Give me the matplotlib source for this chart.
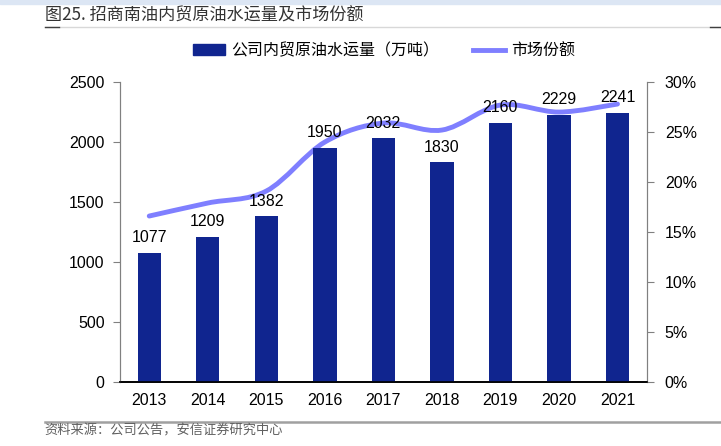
import matplotlib
matplotlib.use('Agg')
import matplotlib.pyplot as plt
from matplotlib.path import Path
from matplotlib.patches import PathPatch, Rectangle
from matplotlib.lines import Line2D
from matplotlib.ticker import FuncFormatter
import numpy as np

plt.rcParams['font.family'] = ['Liberation Sans', 'Noto Sans CJK SC', 'DejaVu Sans']

# 数据
years = ['2013', '2014', '2015', '2016', '2017', '2018', '2019', '2020', '2021']
volume = [1077, 1209, 1382, 1950, 2032, 1830, 2160, 2229, 2241]
share = [16.6, 17.9, 19.1, 24.0, 25.9, 25.2, 27.7, 27.0, 27.8]

bar_color = '#10258F'
line_color = '#7F7FFF'

fig = plt.figure(figsize=(7.21, 4.46), dpi=100)
ax = fig.add_axes([0.1664, 0.1435, 0.7306, 0.6725])
ax2 = ax.twinx()

x = np.arange(len(years))
ax.bar(x, volume, width=0.4, color=bar_color, zorder=2)
for xi, v in zip(x, volume):
    ax.annotate(str(v), (xi, v), xytext=(0, 5.5), textcoords='offset points',
                ha='center', va='bottom', fontsize=11.5, zorder=5)

ax.set_xlim(-0.5, len(years) - 0.5)
ax.set_ylim(0, 2500)
ax.set_yticks(range(0, 2501, 500))
ax.set_xticks(x)
ax.set_xticklabels(years)
ax.tick_params(axis='x', length=0, pad=8, labelsize=11.5)
ax.tick_params(axis='y', direction='out', length=5, color='#808080', labelsize=11.5, pad=6)

# 平滑曲线 (Catmull-Rom -> Bezier)
pts = np.column_stack([x, share]).astype(float)
verts = [tuple(pts[0])]
codes = [Path.MOVETO]
for i in range(len(pts) - 1):
    p0 = pts[i - 1] if i > 0 else pts[i]
    p1 = pts[i]
    p2 = pts[i + 1]
    p3 = pts[i + 2] if i + 2 < len(pts) else pts[i + 1]
    c1 = p1 + (p2 - p0) / 6
    c2 = p2 - (p3 - p1) / 6
    verts += [tuple(c1), tuple(c2), tuple(p2)]
    codes += [Path.CURVE4] * 3
ax2.add_patch(PathPatch(Path(verts, codes), fill=False, edgecolor=line_color,
                        linewidth=3.5, capstyle='round', zorder=3))
ax2.set_ylim(0, 30)
ax2.set_yticks(range(0, 31, 5))
ax2.yaxis.set_major_formatter(FuncFormatter(lambda v, p: f'{int(v)}%'))
ax2.tick_params(axis='y', direction='out', length=5, color='#808080', labelsize=11.5, pad=8)
ax.set_zorder(ax2.get_zorder() + 1)
ax.patch.set_visible(False)

for a in (ax, ax2):
    a.spines['top'].set_visible(False)
    a.spines['left'].set_color('#808080')
    a.spines['right'].set_color('#808080')
    a.spines['bottom'].set_color('black')
    a.spines['bottom'].set_linewidth(1.2)

# 图例
handles = [Rectangle((0, 0), 1, 1, color=bar_color),
           Line2D([0], [0], color=line_color, linewidth=3.5)]
fig.legend(handles, ['公司内贸原油水运量（万吨）', '市场份额'], loc='center',
           bbox_to_anchor=(0.533, 0.886), ncol=2, frameon=False,
           handlelength=2.0, handletextpad=0.4, columnspacing=2.1,
           prop={'family': ['Noto Sans CJK SC'], 'size': 11.5})

# 标题
fig.patches.append(Rectangle((0, 0.99), 1, 0.01, transform=fig.transFigure,
                             color='#DCE6F4', zorder=0))
fig.text(0.062, 0.965, '图25. 招商南油内贸原油水运量及市场份额', fontsize=12.3,
         va='center', ha='left', color='#333333',
         family=['Noto Sans CJK SC', 'DejaVu Sans'])
fig.add_artist(Line2D([0.062, 1.0], [0.94, 0.94], transform=fig.transFigure,
                      color='#D8D8D8', linewidth=1))
fig.add_artist(Line2D([0.062, 0.082], [0.94, 0.94], transform=fig.transFigure,
                      color='#404040', linewidth=1))
fig.add_artist(Line2D([0.985, 1.0], [0.94, 0.94], transform=fig.transFigure,
                      color='#404040', linewidth=1))

# 来源
fig.add_artist(Line2D([0.062, 1.0], [0.054, 0.054], transform=fig.transFigure,
                      color='#A0A0A0', linewidth=1.8))
fig.text(0.062, 0.034, '资料来源：公司公告，安信证券研究中心', fontsize=9.5,
         color='#606060', va='center', ha='left', family=['Noto Sans CJK SC'])

fig.savefig('out.png', dpi=100)
